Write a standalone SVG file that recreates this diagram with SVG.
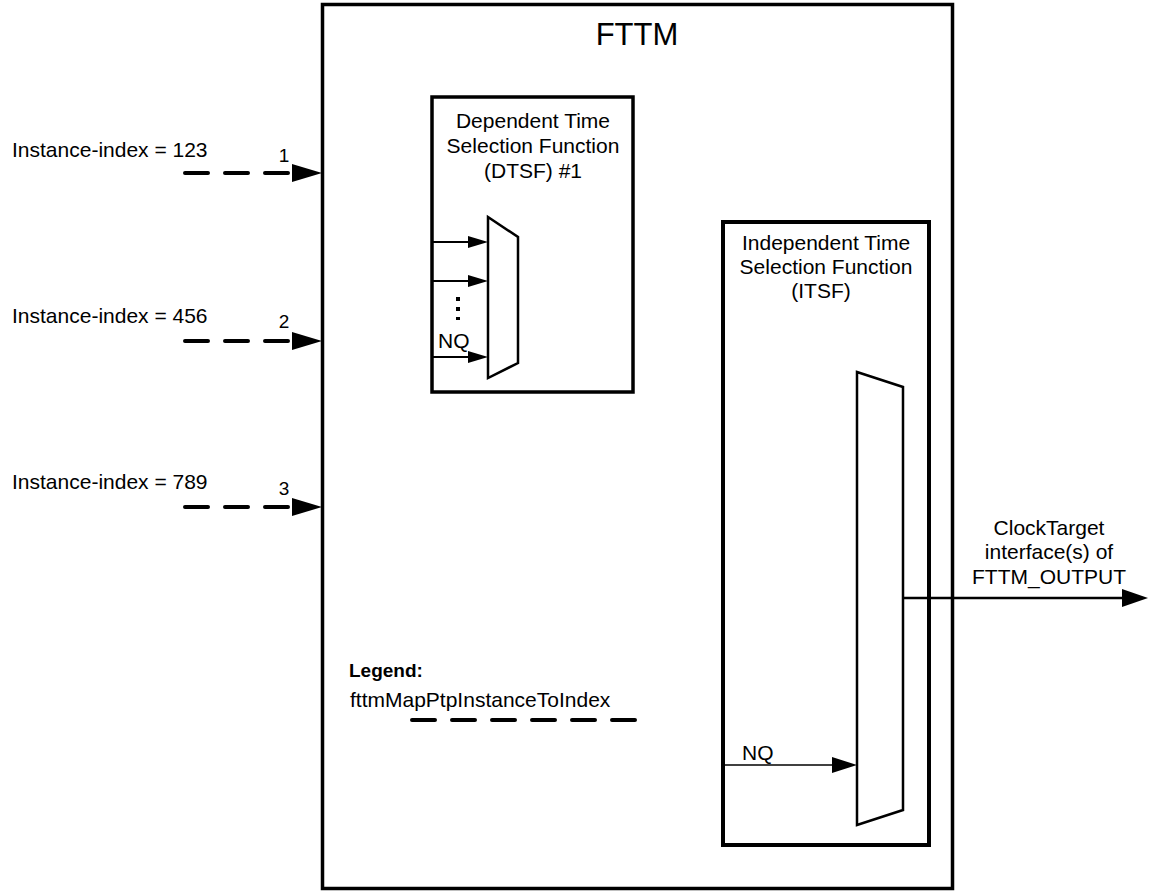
<svg xmlns="http://www.w3.org/2000/svg" width="1150" height="894" viewBox="0 0 1150 894">
<style>
text{font-family:"Liberation Sans",Arial,sans-serif;fill:#000}
.t{font-size:21px}
.c{text-anchor:middle}
.box{fill:none;stroke:#000}
.mux{fill:#fff;stroke:#000;stroke-width:2.5}
.dash{stroke:#000;stroke-width:4;stroke-dasharray:23 17;stroke-linecap:round;fill:none}
.ln{stroke:#000;fill:none}
</style>
<rect width="1150" height="894" fill="#fff"/>
<g id="fttm">
<rect class="box" x="322.5" y="4.5" width="630" height="884" stroke-width="3.5"/>
<text x="637" y="45" font-size="31" class="c">FTTM</text>
</g>
<g id="dtsf">
<rect class="box" x="432" y="97" width="201" height="295" stroke-width="3.5"/>
<text class="t c" x="533" y="128">Dependent Time</text>
<text class="t c" x="533" y="153">Selection Function</text>
<text class="t c" x="533" y="178">(DTSF) #1</text>
<polygon class="mux" points="488,217 518,237 518,363 488,378"/>
<text class="t" x="438" y="348">NQ</text>
<line x1="458" y1="297" x2="458" y2="320" stroke="#000" stroke-width="4" stroke-dasharray="4 6"/>
</g>
<g id="itsf">
<rect class="box" x="723" y="222" width="206" height="623" stroke-width="4"/>
<text class="t c" x="826" y="250">Independent Time</text>
<text class="t c" x="826" y="274">Selection Function</text>
<text class="t c" x="821" y="298">(ITSF)</text>
<polygon class="mux" points="857,372 903,387 903,810 857,825"/>
<text class="t" x="742" y="760">NQ</text>
</g>
<g id="inputs">
<text class="t" x="12" y="157">Instance-index = 123</text>
<text x="284" y="162" font-size="19" class="c">1</text>
<text class="t" x="12" y="323">Instance-index = 456</text>
<text x="284" y="328" font-size="19" class="c">2</text>
<text class="t" x="12" y="489">Instance-index = 789</text>
<text x="284" y="495" font-size="19" class="c">3</text>
</g>
<g id="output-label">
<text class="t c" x="1049" y="535">ClockTarget</text>
<text class="t c" x="1049" y="559">interface(s) of</text>
<text class="t c" x="1049" y="584">FTTM_OUTPUT</text>
</g>
<g id="legend">
<text x="349" y="677" font-size="19" font-weight="bold">Legend:</text>
<text class="t" x="350" y="707">fttmMapPtpInstanceToIndex</text>
<line class="dash" x1="412" y1="720" x2="635" y2="720"/>
</g>
<g id="connectors">
<line class="dash" x1="185" y1="173" x2="288" y2="173"/>
<polygon points="292,164 322,173 292,182"/>
<line class="dash" x1="185" y1="341" x2="288" y2="341"/>
<polygon points="292,332 322,341 292,350"/>
<line class="dash" x1="185" y1="507" x2="288" y2="507"/>
<polygon points="292,498 322,507 292,516"/>
<line class="ln" x1="432" y1="242" x2="470" y2="242" stroke-width="2"/>
<polygon points="468,236 488,242 468,248"/>
<line class="ln" x1="432" y1="281" x2="470" y2="281" stroke-width="2"/>
<polygon points="468,275 488,281 468,287"/>
<line class="ln" x1="432" y1="357" x2="470" y2="357" stroke-width="2"/>
<polygon points="468,351 488,357 468,363"/>
<line class="ln" x1="723" y1="765" x2="834" y2="765" stroke-width="1.7"/>
<polygon points="832,757 857,765 832,773"/>
<line class="ln" x1="903" y1="598" x2="1124" y2="598" stroke-width="2.7"/>
<polygon points="1122,589 1148,598 1122,607"/>
</g>
</svg>
